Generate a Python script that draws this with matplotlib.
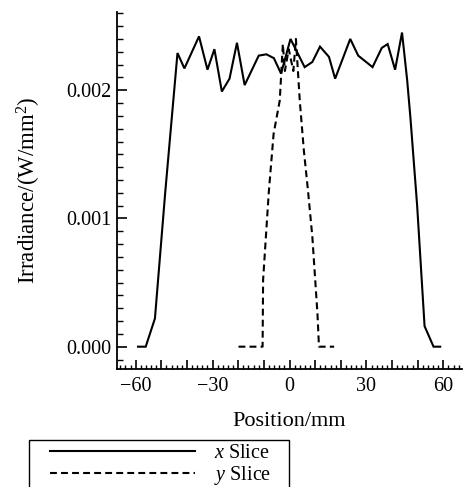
import matplotlib
matplotlib.use("Agg")
import matplotlib.pyplot as plt
from matplotlib.ticker import MultipleLocator, FixedLocator
from matplotlib.patches import Rectangle

plt.rcParams['font.family'] = ['Liberation Serif', 'DejaVu Serif']
plt.rcParams['mathtext.fontset'] = 'custom'
plt.rcParams['mathtext.rm'] = 'Liberation Serif'
plt.rcParams['mathtext.it'] = 'Liberation Serif:italic'

# x Slice data (position mm, irradiance W/mm^2)
x_pos = [-59.1, -56.1, -52.5, -48.5, -43.7, -41.0, -35.3, -32.0, -29.3, -26.4,
         -23.4, -20.5, -17.5, -12.0, -9.0, -6.1, -3.3, 0.4, 5.9, 8.9,
         11.9, 15.4, 17.8, 23.7, 26.8, 32.4, 36.0, 38.3, 41.2, 43.9,
         45.9, 47.2, 49.8, 52.7, 56.2, 58.8]
x_irr = [0.0, 0.0, 0.00022, 0.00120, 0.00229, 0.00217, 0.00242, 0.00216, 0.00232, 0.00199,
         0.00209, 0.00237, 0.00204, 0.00227, 0.00228, 0.00225, 0.00213, 0.00240, 0.00218, 0.00222,
         0.00234, 0.00226, 0.00209, 0.00240, 0.00227, 0.00218, 0.00233, 0.00236, 0.00216, 0.00245,
         0.00208, 0.00178, 0.00110, 0.00016, 0.0, 0.0]

# y Slice data
y_pos = [-19.9, -10.5, -10.3, -8.1, -6.2, -3.8, -2.6, -1.8, -0.3, 1.5,
         2.5, 4.0, 5.6, 7.2, 8.9, 10.9, 11.5, 17.4]
y_irr = [0.0, 0.0, 0.00052, 0.00120, 0.00166, 0.00192, 0.00236, 0.00215, 0.00232, 0.00215,
         0.00240, 0.00192, 0.00153, 0.00122, 0.00086, 0.00026, 0.0, 0.0]

x_label_ticks = [-60, -30, 0, 30, 60]
y_ticks = [0.000, 0.001, 0.002]

W, H = 471, 487
fig = plt.figure(figsize=(W / 100, H / 100), dpi=100)
ax = fig.add_axes([117 / W, 1 - 369 / H, (462 - 117) / W, (369 - 12) / H])

l1, = ax.plot(x_pos, x_irr, color='black', lw=1.5, solid_joinstyle='miter')
l2, = ax.plot(y_pos, y_irr, color='black', lw=1.5, linestyle=(0, (3.3, 2)))

ax.set_xlim(-67.3, 67.3)
ax.set_ylim(-0.000174, 0.00261)

ax.spines['top'].set_visible(False)
ax.spines['right'].set_visible(False)
for s in ('left', 'bottom'):
    ax.spines[s].set_linewidth(1.3)

major_x = list(range(-60, 61, 10))
ax.xaxis.set_major_locator(FixedLocator(major_x))
ax.set_xticklabels([('\u2212%d' % abs(v) if v < 0 else '%d' % v) if v in x_label_ticks else ''
                    for v in major_x])
ax.xaxis.set_minor_locator(MultipleLocator(2))

ax.yaxis.set_major_locator(FixedLocator(y_ticks))
ax.set_yticklabels(['%.3f' % v for v in y_ticks])
ax.yaxis.set_minor_locator(MultipleLocator(0.0001))

ax.tick_params(axis='x', which='major', direction='in', length=6.5, width=1.2, labelsize=14.5, pad=6)
ax.tick_params(axis='x', which='minor', direction='in', length=3.2, width=1.0)
ax.tick_params(axis='y', which='major', direction='in', length=7.5, width=1.2, labelsize=14.5, pad=4)
ax.tick_params(axis='y', which='minor', direction='in', length=4.0, width=1.0)

ax.set_xlabel('Position/mm', fontsize=16, labelpad=11)
ax.set_ylabel('Irradiance/(W/mm$^2$)', fontsize=16.5, labelpad=17)

# legend frame
fig.patches.append(Rectangle((29 / W, -0.05), (289 - 29) / W, 0.05 + 1 - 440 / H,
                             transform=fig.transFigure, fill=False, edgecolor='black', lw=1.0))
fig.legend([l1, l2], [r'$\mathit{x}$ Slice', r'$\mathit{y}$ Slice'],
           loc='upper left', bbox_to_anchor=(50 / W, 1 - 444 / H), frameon=False,
           borderaxespad=0, borderpad=0, handlelength=7.2, handletextpad=0.95,
           labelspacing=0.05, fontsize=14.5)

fig.savefig('out.png', dpi=100)
